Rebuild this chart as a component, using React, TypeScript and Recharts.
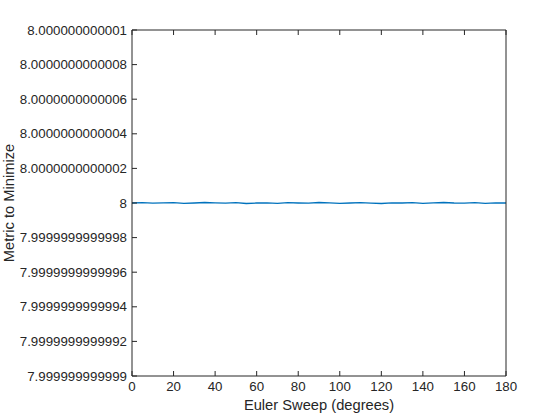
import { LineChart, Line, XAxis, YAxis } from 'recharts';

// Euler sweep angle (degrees)
const angles = [
  0, 5, 10, 15, 20, 25, 30, 35, 40, 45, 50, 55, 60, 65, 70, 75, 80, 85, 90,
  95, 100, 105, 110, 115, 120, 125, 130, 135, 140, 145, 150, 155, 160, 165, 170, 175, 180,
];
// metric minus 8, in units of 1e-15
const deviation = [
  0, 2, -1, 1, 2, -2, 0, 3, 1, -1, 2, -3, 0, 1, -2, 2, 0, -1, 3,
  1, -2, 0, 2, -1, -3, 1, 0, 2, -2, 1, 3, 0, -1, 2, -2, 1, 0,
];
const xTicks = [0, 20, 40, 60, 80, 100, 120, 140, 160, 180];
const yTicks = [-1000, -800, -600, -400, -200, 0, 200, 400, 600, 800, 1000];
const yTickLabels = [
  '7.999999999999',
  '7.9999999999992',
  '7.9999999999994',
  '7.9999999999996',
  '7.9999999999998',
  '8',
  '8.0000000000002',
  '8.0000000000004',
  '8.0000000000006',
  '8.0000000000008',
  '8.000000000001',
];

const data = angles.map((a, i) => ({ angle: a, dev: deviation[i] }));

const AXIS = '#262626';
const FONT = 'Liberation Sans, Arial, sans-serif';

const LeftTick = ({ x, y, index }: any) => (
  <g>
    <line x1={x} y1={y} x2={x + 5} y2={y} stroke={AXIS} />
    <text x={x - 5} y={y} dy={4.5} textAnchor="end" fontSize={13.3} fill={AXIS} fontFamily={FONT}>
      {yTickLabels[index]}
    </text>
  </g>
);

const RightTick = ({ x, y }: any) => (
  <line x1={x} y1={y} x2={x - 5} y2={y} stroke={AXIS} />
);

const BottomTick = ({ x, y, payload }: any) => (
  <g>
    <line x1={x} y1={y} x2={x} y2={y - 5} stroke={AXIS} />
    <text x={x} y={y + 15} textAnchor="middle" fontSize={13.3} fill={AXIS} fontFamily={FONT}>
      {payload.value}
    </text>
  </g>
);

const TopTick = ({ x, y }: any) => (
  <line x1={x} y1={y} x2={x} y2={y + 5} stroke={AXIS} />
);

export default function App() {
  return (
    <div style={{ position: 'absolute', left: 0, top: 0, width: 560, height: 420, background: '#fff' }}>
      <LineChart width={560} height={420} data={data} margin={{ top: 29, right: 53, left: 0, bottom: 0 }}>
        <XAxis
          xAxisId="b"
          dataKey="angle"
          type="number"
          domain={[0, 180]}
          ticks={xTicks}
          height={44}
          tickSize={0}
          tickMargin={0}
          tickLine={false}
          axisLine={{ stroke: AXIS }}
          tick={<BottomTick />}
          label={{ value: 'Euler Sweep (degrees)', position: 'insideBottom', offset: 10, fill: AXIS, fontSize: 14.7, fontFamily: FONT }}
        />
        <XAxis
          xAxisId="t"
          orientation="top"
          dataKey="angle"
          type="number"
          domain={[0, 180]}
          ticks={xTicks}
          height={1}
          tickSize={0}
          tickMargin={0}
          tickLine={false}
          axisLine={{ stroke: AXIS }}
          tick={<TopTick />}
        />
        <YAxis
          yAxisId="l"
          type="number"
          domain={[-1000, 1000]}
          ticks={yTicks}
          width={132}
          tickSize={0}
          tickMargin={0}
          tickLine={false}
          axisLine={{ stroke: AXIS }}
          tick={<LeftTick />}
          interval={0}
          label={{ value: 'Metric to Minimize', angle: -90, position: 'insideLeft', offset: 9, fill: AXIS, fontSize: 14.7, fontFamily: FONT, style: { textAnchor: 'middle' } }}
        />
        <YAxis
          yAxisId="r"
          orientation="right"
          type="number"
          domain={[-1000, 1000]}
          ticks={yTicks}
          width={1}
          tickSize={0}
          tickMargin={0}
          tickLine={false}
          axisLine={{ stroke: AXIS }}
          tick={<RightTick />}
          interval={0}
        />
        <Line
          xAxisId="b"
          yAxisId="l"
          type="linear"
          dataKey="dev"
          stroke="#0072BD"
          strokeWidth={1.3}
          dot={false}
          isAnimationActive={false}
        />
      </LineChart>
    </div>
  );
}
